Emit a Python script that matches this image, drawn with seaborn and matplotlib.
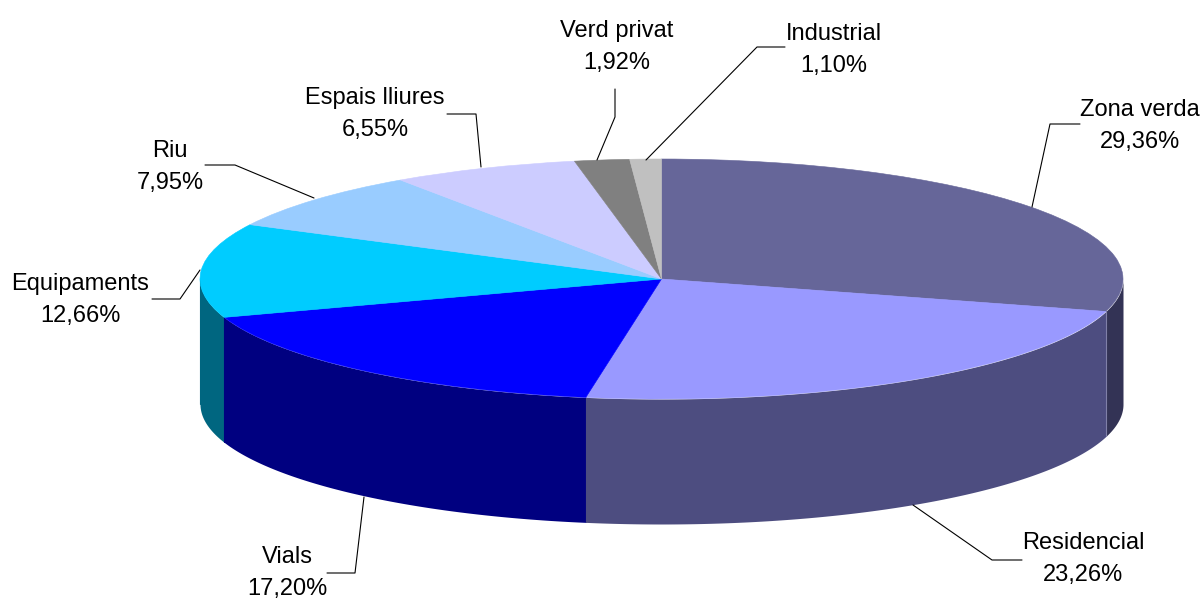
import numpy as np
from matplotlib import pyplot as plt
import seaborn as sns
sns.set_style('white')
plt.rcParams['font.family'] = ['Liberation Sans', 'DejaVu Sans']

NAMES = ["Zona verda", "Residencial", "Vials", "Equipaments", "Riu",
         "Espais lliures", "Verd privat", "Industrial"]
SHARES = [29.36, 23.26, 17.20, 12.66, 7.95, 6.55, 1.92, 1.10]
PCT_TEXT = ["29,36%", "23,26%", "17,20%", "12,66%", "7,95%", "6,55%", "1,92%", "1,10%"]

TOP_COLOURS = ["#666699", "#9999FF", "#0000FF", "#00CCFF",
               "#99CCFF", "#CCCCFF", "#808080", "#C0C0C0"]
WALL_COLOURS = ["#333355", "#4D4D80", "#000080", "#006680",
                "#4D6680", "#666680", "#404040", "#606060"]

# pixel geometry of the tilted pie
CX, CY, RX, RY, DEPTH = 661.5, 279, 461.5, 120, 125
W, H = 1203, 600

LABEL_XY = [(1140, 126), (1083, 559), (287, 573), (80, 300),
            (170, 167), (375, 114), (617, 47), (834, 50)]
LEADERS = [[(1032, 207), (1050, 124), (1080, 124)],
           [(913, 505), (992, 560), (1022, 560)],
           [(364, 497), (355, 573), (327, 573)],
           [(200, 270), (180, 299), (152, 299)],
           [(314, 198), (235, 165), (205, 165)],
           [(481, 167), (476, 114), (447, 114)],
           [(597, 160), (615, 117), (615, 89)],
           [(646, 160), (757, 47), (785, 47)]]

fig, ax = plt.subplots(figsize=(W/100, H/100), dpi=100)
fig.subplots_adjust(0, 0, 1, 1)

# side walls, only the part of each slice facing the viewer
edges = 90 - 360*np.cumsum([0] + SHARES)/100
depth = DEPTH/RY
for i in range(len(SHARES)):
    a0, a1 = max(edges[i+1], -180), min(edges[i], 0)
    if a1 <= a0:
        continue
    th = np.radians(np.linspace(a0, a1, 200))
    ax.fill_between(np.cos(th), np.sin(th), np.sin(th)-depth,
                    color=WALL_COLOURS[i], linewidth=0)
    # pale seam only on the right hand edge, the others just hide the gap
    seam = "#8080A8" if i == 0 else WALL_COLOURS[i]
    ax.plot([np.cos(th[0])]*2, [np.sin(th[0]), np.sin(th[0])-depth],
            color=seam, lw=0.8, zorder=2)

wedges = ax.pie(SHARES, colors=sns.color_palette(TOP_COLOURS), startangle=90, counterclock=False,
                wedgeprops={'linewidth': 0.4, 'zorder': 3})[0]
for wedge, col in zip(wedges, TOP_COLOURS):
    wedge.set_edgecolor(col)
ax.set_aspect('auto')
ax.set_xlim(-CX/RX, (W-CX)/RX)
ax.set_ylim((CY-H)/RY, CY/RY)
ax.axis('off')

# labels and leader lines sit in a pixel space overlay
over = fig.add_axes([0, 0, 1, 1])
over.set_xlim(0, W)
over.set_ylim(H, 0)
over.axis('off')
over.patch.set_alpha(0)
for name, pct, (x, y), leader in zip(NAMES, PCT_TEXT, LABEL_XY, LEADERS):
    over.text(x, y, f"{name}\n{pct}", ha='center', va='center', fontsize=17,
              linespacing=1.58, color='black', clip_on=False)
    over.plot(*zip(*leader), color='black', lw=0.8)

plt.savefig("out.png", dpi=100)
